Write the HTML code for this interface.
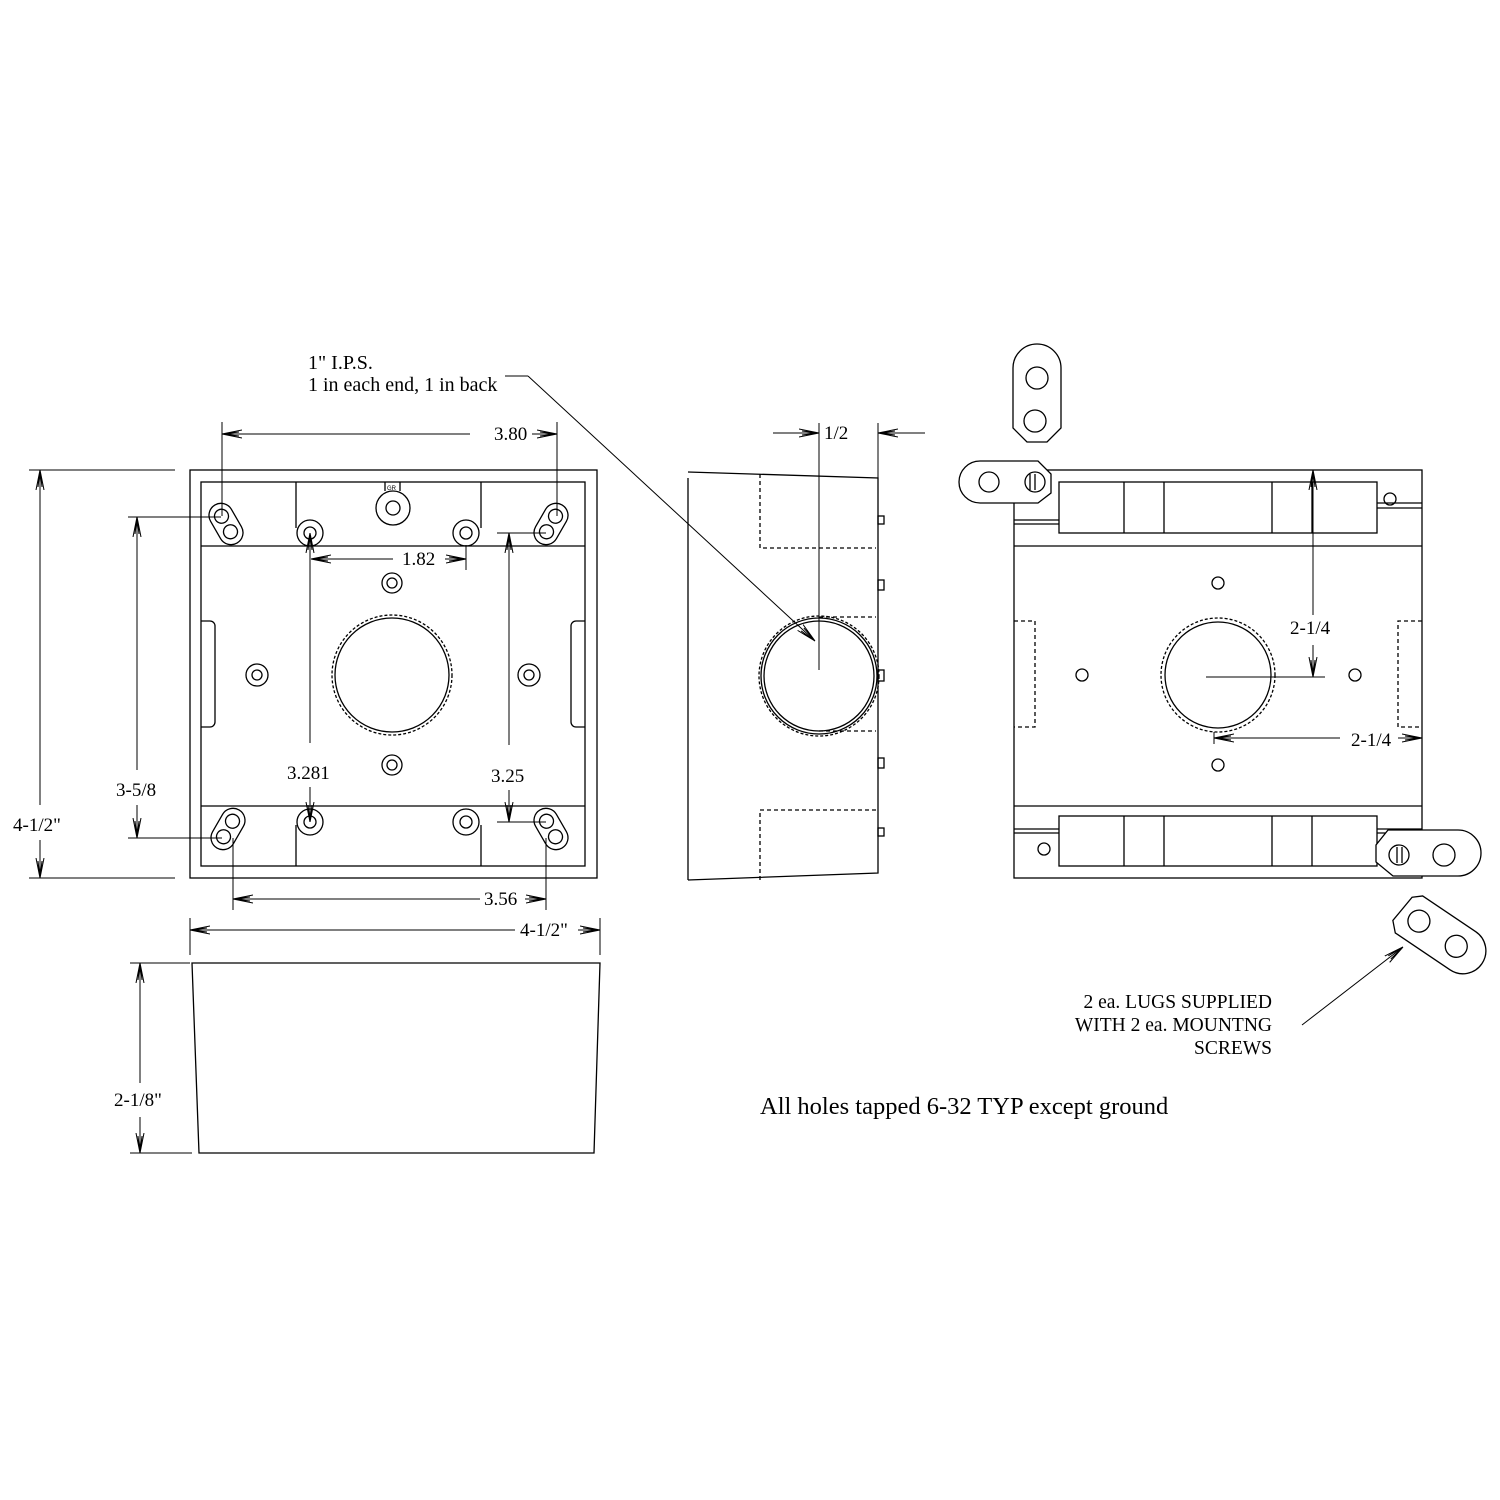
<!DOCTYPE html>
<html><head><style>
html,body{margin:0;padding:0;background:#fff;}
svg{display:block;}
text{font-family:"Liberation Serif",serif;font-size:19px;fill:#000;}
</style></head><body>
<svg width="1500" height="1500" viewBox="0 0 1500 1500" xmlns="http://www.w3.org/2000/svg">
<defs>
<marker id="a" viewBox="0 0 20 10" refX="20" refY="5" markerWidth="20" markerHeight="10" markerUnits="userSpaceOnUse" orient="auto-start-reverse">
<path d="M0,1 L20,5 L0,9 M3,3 L20,5 L3,7" fill="none" stroke="#000" stroke-width="1"/>
</marker>
</defs>
<g fill="none" stroke="#000" stroke-width="1.3">
<rect x="190" y="470" width="407" height="408"/>
<rect x="201" y="482" width="384" height="384"/>
<line x1="201" y1="546" x2="585" y2="546"/>
<line x1="201" y1="806" x2="585" y2="806"/>
<line x1="296" y1="482" x2="296" y2="528"/>
<line x1="481" y1="482" x2="481" y2="528"/>
<line x1="296" y1="825" x2="296" y2="866"/>
<line x1="481" y1="825" x2="481" y2="866"/>
<path d="M201,621 h9 a5,5 0 0 1 5,5 v96 a5,5 0 0 1 -5,5 h-9"/>
<path d="M585,621 h-9 a5,5 0 0 0 -5,5 v96 a5,5 0 0 0 5,5 h9"/>
<circle cx="310" cy="533" r="13"/><circle cx="310" cy="533" r="6"/>
<circle cx="466" cy="533" r="13"/><circle cx="466" cy="533" r="6"/>
<circle cx="310" cy="822" r="13"/><circle cx="310" cy="822" r="6"/>
<circle cx="466" cy="822" r="13"/><circle cx="466" cy="822" r="6"/>
<circle cx="393" cy="508" r="17"/><circle cx="393" cy="508" r="7"/>
<path d="M385,491 v-9 M400,491 v-9"/>
<circle cx="392" cy="583" r="10"/><circle cx="392" cy="583" r="5"/>
<circle cx="392" cy="765" r="10"/><circle cx="392" cy="765" r="5"/>
<circle cx="257" cy="675" r="11"/><circle cx="257" cy="675" r="5"/>
<circle cx="529" cy="675" r="11"/><circle cx="529" cy="675" r="5"/>
<circle cx="392" cy="675" r="57"/>
<circle cx="392" cy="675" r="60" stroke-dasharray="3,2"/>
<g transform="translate(226,524) rotate(-30)"><rect x="-12" y="-22" width="24" height="44" rx="12"/><circle cx="0" cy="-9" r="7"/><circle cx="0" cy="9" r="7"/></g>
<g transform="translate(551,524) rotate(30)"><rect x="-12" y="-22" width="24" height="44" rx="12"/><circle cx="0" cy="-9" r="7"/><circle cx="0" cy="9" r="7"/></g>
<g transform="translate(228,829) rotate(30)"><rect x="-12" y="-22" width="24" height="44" rx="12"/><circle cx="0" cy="-9" r="7"/><circle cx="0" cy="9" r="7"/></g>
<g transform="translate(551,829) rotate(-30)"><rect x="-12" y="-22" width="24" height="44" rx="12"/><circle cx="0" cy="-9" r="7"/><circle cx="0" cy="9" r="7"/></g>
</g>
<g fill="none" stroke="#000" stroke-width="1">
<line x1="222" y1="422" x2="222" y2="516"/><line x1="557" y1="422" x2="557" y2="516"/>
<line x1="222" y1="434" x2="470" y2="434" marker-start="url(#a)"/>
<line x1="532" y1="434" x2="557" y2="434" marker-end="url(#a)"/>
<line x1="29" y1="470" x2="175" y2="470"/><line x1="29" y1="878" x2="175" y2="878"/>
<line x1="40" y1="470" x2="40" y2="805" marker-start="url(#a)"/>
<line x1="40" y1="840" x2="40" y2="878" marker-end="url(#a)"/>
<line x1="128" y1="517" x2="221" y2="517"/><line x1="128" y1="838" x2="222" y2="838"/>
<line x1="137" y1="517" x2="137" y2="770" marker-start="url(#a)"/>
<line x1="137" y1="805" x2="137" y2="838" marker-end="url(#a)"/>
<line x1="311" y1="559" x2="393" y2="559" marker-start="url(#a)"/>
<line x1="445" y1="559" x2="466" y2="559" marker-end="url(#a)"/>
<line x1="466" y1="545" x2="466" y2="570"/>
<line x1="310" y1="533" x2="310" y2="743" marker-start="url(#a)"/>
<line x1="310" y1="787" x2="310" y2="822" marker-end="url(#a)"/>
<line x1="497" y1="533" x2="546" y2="533"/><line x1="497" y1="822" x2="546" y2="822"/>
<line x1="509" y1="533" x2="509" y2="745" marker-start="url(#a)"/>
<line x1="509" y1="790" x2="509" y2="822" marker-end="url(#a)"/>
<line x1="233" y1="838" x2="233" y2="910"/><line x1="546" y1="838" x2="546" y2="910"/>
<line x1="233" y1="899" x2="480" y2="899" marker-start="url(#a)"/>
<line x1="525" y1="899" x2="546" y2="899" marker-end="url(#a)"/>
<line x1="190" y1="918" x2="190" y2="955"/><line x1="600" y1="918" x2="600" y2="955"/>
<line x1="190" y1="930" x2="515" y2="930" marker-start="url(#a)"/>
<line x1="578" y1="930" x2="600" y2="930" marker-end="url(#a)"/>
<line x1="130" y1="963" x2="190" y2="963"/><line x1="130" y1="1153" x2="192" y2="1153"/>
<line x1="140" y1="963" x2="140" y2="1083" marker-start="url(#a)"/>
<line x1="140" y1="1117" x2="140" y2="1153" marker-end="url(#a)"/>
</g>
<path d="M192,963 L600,963 L594,1153 L199,1153 Z" fill="none" stroke="#000" stroke-width="1.3"/>
<g fill="none" stroke="#000" stroke-width="1.3">
<path d="M688,472 L878,478 L878,873 L688,880 M688,478 L688,880"/>
<path d="M760,474 V548 H876 M760,880 V810 H876" stroke-dasharray="4,3"/>
<path d="M819,617 H876 M819,731 H876" stroke-dasharray="4,3"/>
<circle cx="819" cy="676" r="55"/>
<circle cx="819" cy="676" r="58"/>
<circle cx="819" cy="676" r="60" stroke-dasharray="3,2"/>
<rect x="878" y="516" width="6" height="8"/><rect x="878" y="580" width="6" height="10"/>
<rect x="878" y="670" width="6" height="11"/><rect x="878" y="758" width="6" height="10"/>
<rect x="878" y="828" width="6" height="8"/>
</g>
<g fill="none" stroke="#000" stroke-width="1">
<line x1="819" y1="423" x2="819" y2="670"/><line x1="878" y1="423" x2="878" y2="478"/>
<line x1="773" y1="433" x2="819" y2="433" marker-end="url(#a)"/>
<line x1="925" y1="433" x2="878" y2="433" marker-end="url(#a)"/>
<line x1="505" y1="376" x2="528" y2="376"/>
<line x1="528" y1="376" x2="815" y2="641" marker-end="url(#a)"/>
</g>
<g fill="none" stroke="#000" stroke-width="1.3">
<rect x="1014" y="470" width="408" height="408"/>
<rect x="1059" y="482" width="318" height="51"/>
<path d="M1124,482V533 M1164,482V533 M1272,482V533 M1312,482V533"/>
<rect x="1059" y="816" width="318" height="50"/>
<path d="M1124,816V866 M1164,816V866 M1272,816V866 M1312,816V866"/>
<line x1="1014" y1="546" x2="1422" y2="546"/>
<line x1="1014" y1="806" x2="1422" y2="806"/>
<path d="M1014,520H1059 M1014,524H1059 M1377,503H1422 M1377,508H1422"/>
<path d="M1014,829H1059 M1014,833H1059 M1377,829H1422 M1377,833H1422"/>
<circle cx="1390" cy="499" r="6"/><circle cx="1044" cy="849" r="6"/>
<circle cx="1218" cy="583" r="6"/><circle cx="1218" cy="765" r="6"/>
<circle cx="1082" cy="675" r="6"/><circle cx="1355" cy="675" r="6"/>
<circle cx="1218" cy="675" r="53"/>
<circle cx="1218" cy="675" r="57" stroke-dasharray="3,2"/>
<path d="M1014,621H1035V727H1014 M1422,621H1398V727H1422" stroke-dasharray="4,3"/>
<path d="M1013,368 a24,24 0 0 1 48,0 V428 L1047,442 H1027 L1013,428 Z" fill="#fff"/>
<circle cx="1037" cy="378" r="11"/><circle cx="1035" cy="421" r="11"/>
<path d="M980,461 H1038 L1051,474 V493 L1038,503 H1010 L980,503 A21,21 0 0 1 980,461 Z" fill="#fff"/>
<circle cx="989" cy="482" r="10"/><circle cx="1035" cy="482" r="10"/>
<path d="M1030,474V490 M1035,474V490"/>
<path d="M1388,830 H1458 A22,22 0 0 1 1458,876 H1393 L1376,862 V845 Z" fill="#fff"/>
<circle cx="1399" cy="855" r="10"/><circle cx="1444" cy="855" r="11"/>
<path d="M1397,847V863 M1402,847V863"/>
<g transform="translate(1438,934) rotate(34)">
<path d="M-42,-16 L-34,-23 H30 A23,23 0 0 1 30,23 H-36 L-45,14 Z" fill="#fff"/>
<circle cx="-23" cy="0" r="11"/><circle cx="22" cy="0" r="11"/>
</g>
</g>
<g fill="none" stroke="#000" stroke-width="1">
<line x1="1313" y1="470" x2="1313" y2="615" marker-start="url(#a)"/>
<line x1="1313" y1="645" x2="1313" y2="677" marker-end="url(#a)"/>
<line x1="1206" y1="677" x2="1325" y2="677"/>
<line x1="1214" y1="732" x2="1214" y2="744"/>
<line x1="1214" y1="738" x2="1340" y2="738" marker-start="url(#a)"/>
<line x1="1398" y1="738" x2="1422" y2="738" marker-end="url(#a)"/>
<line x1="1302" y1="1025" x2="1403" y2="947" marker-end="url(#a)"/>
</g>
<text x="494" y="440">3.80</text>
<text x="402" y="565">1.82</text>
<text x="287" y="779">3.281</text>
<text x="491" y="782">3.25</text>
<text x="484" y="905">3.56</text>
<text x="520" y="936">4-1/2"</text>
<text x="13" y="831">4-1/2"</text>
<text x="116" y="796">3-5/8</text>
<text x="114" y="1106">2-1/8"</text>
<text x="824" y="439">1/2</text>
<text x="308" y="369" style="font-size:20px">1" I.P.S.</text>
<text x="308" y="391" style="font-size:20px">1 in each end, 1 in back</text>
<text x="1290" y="634">2-1/4</text>
<text x="1351" y="746">2-1/4</text>
<text x="1272" y="1008" text-anchor="end" style="font-size:19.5px">2 ea. LUGS SUPPLIED</text>
<text x="1272" y="1031" text-anchor="end" style="font-size:19.5px">WITH 2 ea. MOUNTNG</text>
<text x="1272" y="1054" text-anchor="end" style="font-size:19.5px">SCREWS</text>
<text x="760" y="1114" style="font-size:24.5px">All holes tapped 6-32 TYP except ground</text>
<text x="387" y="490" style="font-size:6px;font-family:'Liberation Sans',sans-serif">GR</text>
</svg>
</body></html>
